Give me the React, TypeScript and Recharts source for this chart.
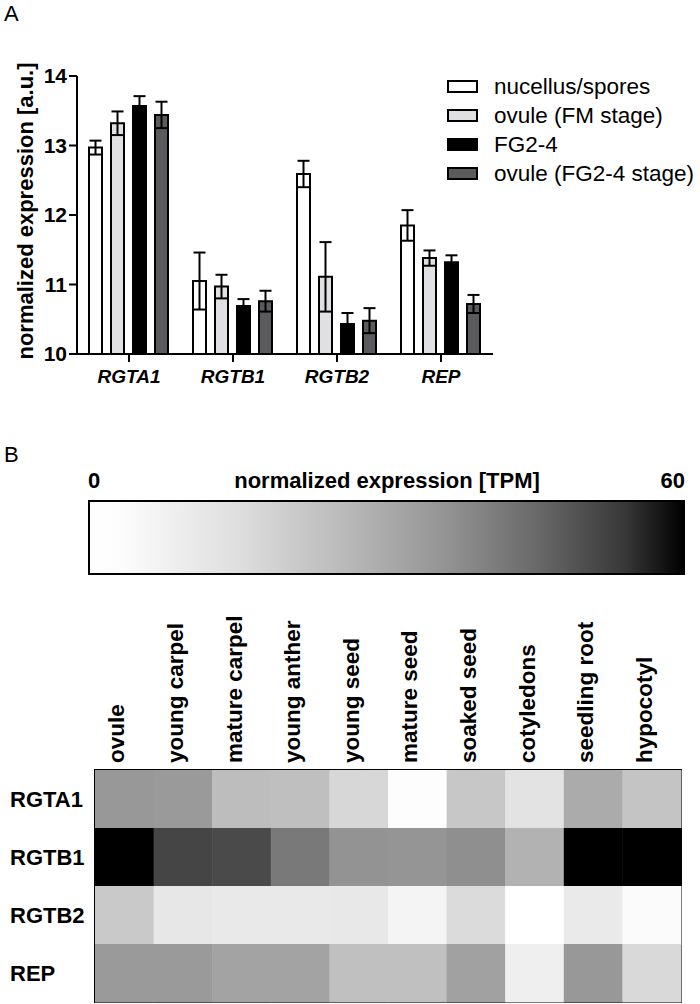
import React from 'react';
import {
  BarChart,
  Bar,
  XAxis,
  YAxis,
  ErrorBar,
  Legend,
  ScatterChart,
  Scatter,
  Customized,
} from 'recharts';

const FONT = '"Liberation Sans", Arial, Helvetica, sans-serif';

// ---- panel A: qPCR-like expression, mean +/- error ----
const genes = ['RGTA1', 'RGTB1', 'RGTB2', 'REP'];
const seriesNames = ['nucellus/spores', 'ovule (FM stage)', 'FG2-4', 'ovule (FG2-4 stage)'];
const seriesColors = ['#ffffff', '#e0e0e2', '#000000', '#5b5b5d'];

const nucellus = [12.97, 11.05, 12.59, 11.85];
const nucellusErr = [0.1, 0.41, 0.19, 0.22];
const ovuleFM = [13.32, 10.97, 11.11, 11.38];
const ovuleFMErr = [0.17, 0.17, 0.5, 0.11];
const fg24 = [13.57, 10.69, 10.43, 11.32];
const fg24Err = [0.14, 0.1, 0.16, 0.1];
const ovuleFG = [13.44, 10.76, 10.48, 10.72];
const ovuleFGErr = [0.19, 0.15, 0.18, 0.13];

const yTicks = [10, 11, 12, 13, 14];

const barData = genes.map((gene, i) => ({
  gene,
  s0: nucellus[i],
  e0: nucellusErr[i],
  s1: ovuleFM[i],
  e1: ovuleFMErr[i],
  s2: fg24[i],
  e2: fg24Err[i],
  s3: ovuleFG[i],
  e3: ovuleFGErr[i],
}));

// ---- panel B: TPM heatmap ----
const tissues = [
  'ovule',
  'young carpel',
  'mature carpel',
  'young anther',
  'young seed',
  'mature seed',
  'soaked seed',
  'cotyledons',
  'seedling root',
  'hypocotyl',
];
const heatGenes = ['RGTA1', 'RGTB1', 'RGTB2', 'REP'];
const tpmRGTA1 = [34.7, 34.1, 24.7, 24.1, 17.0, 2.5, 21.7, 13.1, 29.7, 22.6];
const tpmRGTB1 = [60, 51.7, 50.8, 41.7, 36.0, 35.5, 36.9, 27.8, 60, 60];
const tpmRGTB2 = [21.1, 11.5, 10.7, 10.7, 11.1, 6.5, 15.9, 0, 10.4, 3.8];
const tpmREP = [34.1, 34.1, 31.8, 31.8, 23.8, 23.8, 32.3, 8.4, 34.7, 16.4];
const tpmRows = [tpmRGTA1, tpmRGTB1, tpmRGTB2, tpmREP];
const tpmMax = 60;

// grey ramp of the colour bar: [fraction, grey level]
const rampStops: [number, number][] = [
  [0, 255],
  [0.05, 253],
  [0.25, 222],
  [0.45, 181],
  [0.6, 147],
  [0.75, 106],
  [0.9, 56],
  [1, 0],
];

const heatData = heatGenes.flatMap((gene, r) =>
  tissues.map((tissue, c) => ({ gene, tissue, tpm: tpmRows[r][c] }))
);

function greyFor(tpm: number) {
  const t = Math.max(0, Math.min(1, tpm / tpmMax));
  for (let i = 1; i < rampStops.length; i++) {
    const [t0, g0] = rampStops[i - 1];
    const [t1, g1] = rampStops[i];
    if (t <= t1) {
      const g = Math.round(g0 + ((t - t0) / (t1 - t0)) * (g1 - g0));
      return `rgb(${g},${g},${g})`;
    }
  }
  return 'rgb(0,0,0)';
}

// heatmap plot box (inside the ScatterChart)
const HM_W = 700;
const HM_H = 564;
const hmMargin = { top: 160, right: 19, bottom: 2, left: 5 };
const hmXAxisH = 170;
const hmYAxisW = 90;
const plotX = hmMargin.left + hmYAxisW;
const plotY = hmMargin.top + hmXAxisH;
const plotW = HM_W - plotX - hmMargin.right;
const plotH = HM_H - plotY - hmMargin.bottom;
const cellW = plotW / tissues.length;
const cellH = plotH / heatGenes.length;

function BarLegend() {
  return (
    <div style={{ fontFamily: FONT, fontSize: 22.5, color: '#000' }}>
      {seriesNames.map((name, i) => (
        <div key={name} style={{ display: 'flex', alignItems: 'center', height: 29 }}>
          <span
            style={{
              display: 'inline-block',
              width: 31,
              height: 13,
              boxSizing: 'border-box',
              border: '2px solid #000',
              background: seriesColors[i],
              marginRight: 16,
              flexShrink: 0,
            }}
          />
          <span style={{ whiteSpace: 'nowrap', lineHeight: '29px' }}>{name}</span>
        </div>
      ))}
    </div>
  );
}

function PanelALetter() {
  return (
    <text x={4} y={21} fontSize={22} fill="#000">
      A
    </text>
  );
}

function YLabel(props: any) {
  const vb = props.viewBox || { x: 77, y: 76, width: 0, height: 278 };
  const cy = vb.y + vb.height / 2 - 4;
  return (
    <text
      transform={`translate(33,${cy}) rotate(-90)`}
      textAnchor="middle"
      fontSize={22}
      fontWeight="bold"
      fill="#000"
    >
      normalized expression [a.u.]
    </text>
  );
}

function HeatCell(props: any) {
  const { cx, cy, payload } = props;
  if (cx == null || cy == null) return null;
  return (
    <rect
      x={cx - cellW / 2}
      y={cy - cellH / 2}
      width={cellW + 0.5}
      height={cellH + 0.5}
      fill={greyFor(payload.tpm)}
    />
  );
}

function TissueTick(props: any) {
  const { x, y, payload } = props;
  return (
    <text
      transform={`translate(${x},${y}) rotate(-90)`}
      textAnchor="start"
      fontSize={22.5}
      fontWeight="bold"
      fill="#000"
    >
      {payload.value}
    </text>
  );
}

function GeneTick(props: any) {
  const { y, payload } = props;
  return (
    <text x={10} y={y} dy="0.36em" textAnchor="start" fontSize={22} fontWeight="bold" fill="#000">
      {payload.value}
    </text>
  );
}

function ColourBarAndFrame() {
  return (
    <g>
      <defs>
        <linearGradient id="tpmRamp" x1="0" x2="1" y1="0" y2="0">
          {rampStops.map(([t, g]) => (
            <stop key={t} offset={t} stopColor={`rgb(${g},${g},${g})`} />
          ))}
        </linearGradient>
      </defs>
      <text x={4} y={22} fontSize={22} fill="#000">
        B
      </text>
      <text x={88} y={48} fontSize={22} fontWeight="bold" fill="#000">
        0
      </text>
      <text x={387} y={48} fontSize={22} fontWeight="bold" textAnchor="middle" fill="#000">
        normalized expression [TPM]
      </text>
      <text x={685} y={48} fontSize={22} fontWeight="bold" textAnchor="end" fill="#000">
        {tpmMax}
      </text>
      <rect x={89} y={61} width={595} height={73} fill="url(#tpmRamp)" stroke="#000" strokeWidth={2} />
      <rect x={plotX} y={plotY} width={plotW} height={plotH} fill="none" stroke="#000" strokeWidth={2} />
    </g>
  );
}

export default function App() {
  const axisStroke = { stroke: '#000', strokeWidth: 2 };
  return (
    <div
      style={{
        position: 'absolute',
        left: 0,
        top: 0,
        width: 700,
        height: 1004,
        background: '#fff',
        fontFamily: FONT,
      }}
    >
      <div style={{ position: 'absolute', left: 0, top: 0 }}>
        <BarChart
          width={700}
          height={420}
          data={barData}
          margin={{ top: 76, right: 207, bottom: 26, left: 17 }}
          barCategoryGap={12}
          barGap={9}
        >
          <XAxis
            dataKey="gene"
            height={40}
            tickSize={8}
            tickMargin={8}
            axisLine={axisStroke}
            tickLine={axisStroke}
            tick={{ fontSize: 19, fontWeight: 'bold', fontStyle: 'italic', fill: '#000' }}
          />
          <YAxis
            type="number"
            width={60}
            domain={[10, 14]}
            ticks={yTicks}
            interval={0}
            tickSize={8}
            axisLine={axisStroke}
            tickLine={axisStroke}
            tick={{ fontSize: 21, fontWeight: 'bold', fill: '#000' }}
            label={{ content: (p: any) => <YLabel {...p} /> }}
          />
          <Legend
            content={<BarLegend />}
            layout="vertical"
            align="center"
            verticalAlign="middle"
            wrapperStyle={{ left: 447, top: 72, width: 253 }}
          />
          {['s0', 's1', 's2', 's3'].map((key, i) => (
            <Bar
              key={key}
              dataKey={key}
              name={seriesNames[i]}
              fill={seriesColors[i]}
              stroke="#000"
              strokeWidth={2}
              isAnimationActive={false}
            >
              <ErrorBar
                dataKey={`e${i}`}
                direction="y"
                width={6}
                stroke="#000"
                strokeWidth={2}
                isAnimationActive={false}
              />
            </Bar>
          ))}
          <Customized component={PanelALetter} />
        </BarChart>
      </div>

      <div style={{ position: 'absolute', left: 0, top: 440 }}>
        <ScatterChart width={HM_W} height={HM_H} margin={hmMargin}>
          <XAxis
            type="category"
            dataKey="tissue"
            orientation="top"
            allowDuplicatedCategory={false}
            height={hmXAxisH}
            axisLine={false}
            tickLine={false}
            tickSize={0}
            tickMargin={7}
            interval={0}
            tick={<TissueTick />}
          />
          <YAxis
            type="category"
            dataKey="gene"
            allowDuplicatedCategory={false}
            reversed
            width={hmYAxisW}
            axisLine={false}
            tickLine={false}
            interval={0}
            tick={<GeneTick />}
          />
          <Scatter data={heatData} shape={<HeatCell />} isAnimationActive={false} />
          <Customized component={ColourBarAndFrame} />
        </ScatterChart>
      </div>
    </div>
  );
}
